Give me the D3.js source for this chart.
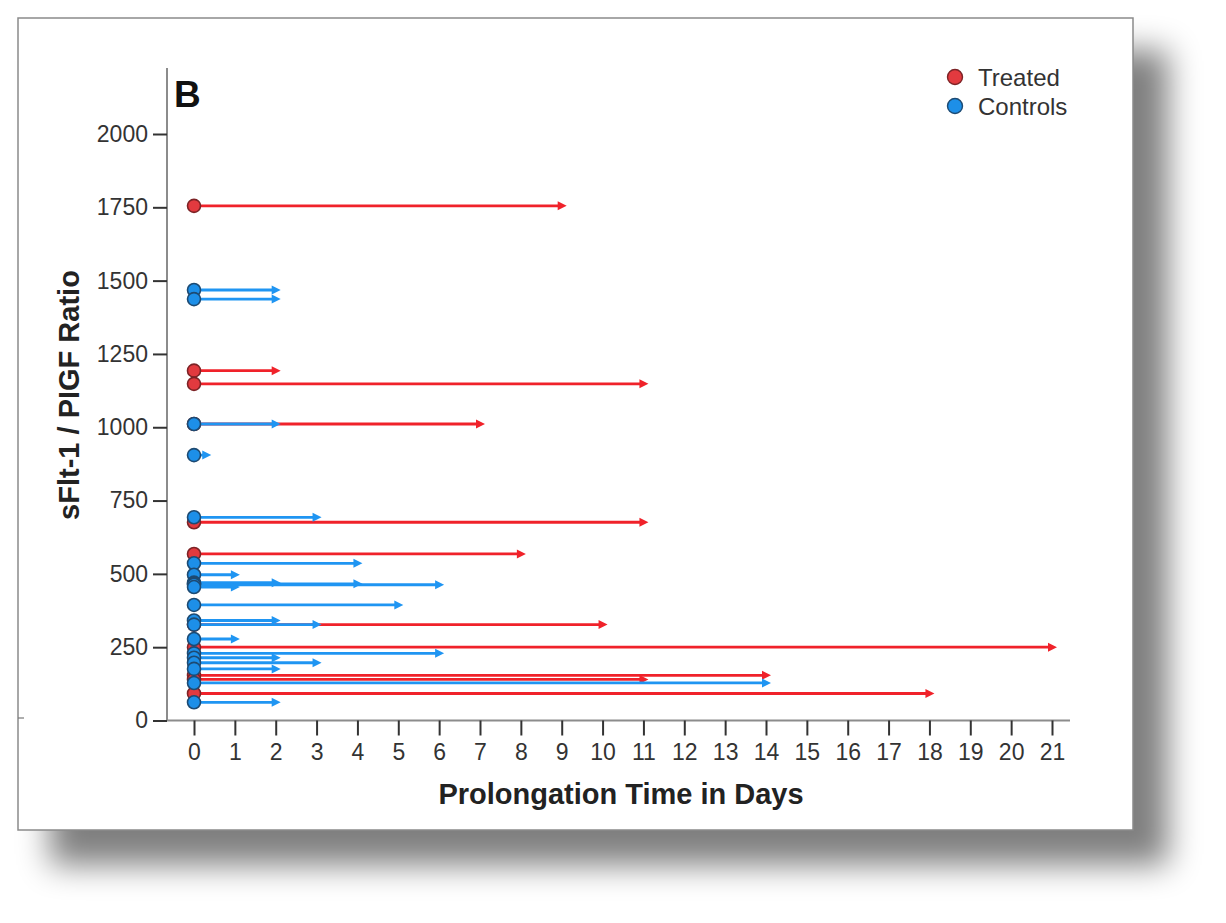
<!DOCTYPE html>
<html>
<head>
<meta charset="utf-8">
<script src="https://cdn.jsdelivr.net/npm/d3@7/dist/d3.min.js"></script>
<style>
  html, body { margin: 0; padding: 0; background: #ffffff; }
  svg { display: block; }
  text { font-family: "Liberation Sans", Arial, Helvetica, sans-serif; }
</style>
</head>
<body>
<svg id="chart" width="1226" height="923"></svg>
<script>
// ---- data ----
const treatedRatio = [1755, 1193, 1148, 1011, 676, 568, 327, 250, 154, 140, 92];
const treatedDays  = [9, 2, 11, 7, 11, 8, 10, 21, 14, 11, 18];
const controlRatio = [1468, 1437, 1011, 905, 693, 536, 497, 470, 466, 463, 455, 394, 341, 327, 278, 229, 214, 197, 176, 128, 62];
const controlDays  = [2, 2, 2, 0.3, 3, 4, 1, 2, 4, 6, 1, 5, 2, 3, 1, 6, 2, 3, 2, 14, 2];
const xTicks = d3.range(0, 22);
const yTicks = [0, 250, 500, 750, 1000, 1250, 1500, 1750, 2000];
const seriesNames = ["Treated", "Controls"];

const svg = d3.select("#chart");

// ---- frame with drop shadow ----
const defs = svg.append("defs");
const f = defs.append("filter").attr("id", "shadow")
  .attr("x", "-10%").attr("y", "-10%").attr("width", "130%").attr("height", "130%");
f.append("feGaussianBlur").attr("stdDeviation", 16);

svg.append("rect")
  .attr("x", 50).attr("y", 50).attr("width", 1118).attr("height", 815)
  .attr("fill", "#000").attr("opacity", 0.5).attr("filter", "url(#shadow)");
svg.append("rect")
  .attr("x", 18).attr("y", 18).attr("width", 1115).attr("height", 812)
  .attr("fill", "#fff").attr("stroke", "#8a8a8a").attr("stroke-width", 1.5);
svg.append("line").attr("x1", 18).attr("x2", 24).attr("y1", 718).attr("y2", 718)
  .attr("stroke", "#777").attr("stroke-width", 1.2);

// ---- scales ----
const x = d3.scaleLinear().domain([0, 21]).range([194, 1052]);
const y = d3.scaleLinear().domain([0, 2000]).range([720.5, 134]);
const axisX0 = 167, axisY0 = 720.5;

// axes lines
svg.append("line").attr("x1", axisX0).attr("x2", axisX0).attr("y1", 68).attr("y2", axisY0)
  .attr("stroke", "#8c8c8c").attr("stroke-width", 2);
svg.append("line").attr("x1", axisX0).attr("x2", 1070).attr("y1", axisY0).attr("y2", axisY0)
  .attr("stroke", "#8c8c8c").attr("stroke-width", 2);

// y axis
const yAxis = d3.axisLeft(y).tickValues(yTicks).tickSize(14).tickPadding(5).tickFormat(d3.format("d"));
const gy = svg.append("g").attr("transform", `translate(${axisX0},0)`).call(yAxis);
gy.select(".domain").remove();
gy.selectAll(".tick line").attr("stroke", "#333").attr("stroke-width", 2);
gy.selectAll(".tick text").attr("font-size", 23).attr("fill", "#333")
  .attr("font-family", "'Liberation Sans', Arial, sans-serif");

// x axis
const xAxis = d3.axisBottom(x).tickValues(xTicks).tickSize(15).tickPadding(8).tickFormat(d3.format("d"));
const gx = svg.append("g").attr("transform", `translate(0,${axisY0})`).call(xAxis);
gx.select(".domain").remove();
gx.selectAll(".tick line").attr("stroke", "#333").attr("stroke-width", 2);
gx.selectAll(".tick text").attr("font-size", 23).attr("fill", "#333")
  .attr("font-family", "'Liberation Sans', Arial, sans-serif");

// titles
svg.append("text").attr("x", 621).attr("y", 804).attr("text-anchor", "middle")
  .attr("font-size", 29).attr("font-weight", "bold").attr("fill", "#222")
  .text("Prolongation Time in Days");
svg.append("text").attr("transform", "translate(79,395) rotate(-90)").attr("text-anchor", "middle")
  .attr("font-size", 29).attr("font-weight", "bold").attr("fill", "#222")
  .text("sFlt-1 / PIGF Ratio");
svg.append("text").attr("x", 174).attr("y", 107)
  .attr("font-size", 37).attr("font-weight", "bold").attr("fill", "#111").text("B");

// ---- series ----
const series = [
  { name: seriesNames[0], ratio: treatedRatio, days: treatedDays, line: "#f0222a", fill: "#e23a3f", stroke: "#7c2326" },
  { name: seriesNames[1], ratio: controlRatio, days: controlDays, line: "#1f95f2", fill: "#1d8fe8", stroke: "#1d4a72" }
];

const headLen = 9, headW = 4.5, tipShift = 5;
series.forEach(s => {
  const data = s.ratio.map((r, i) => ({ r, d: s.days[i] }));
  const g = svg.append("g");
  g.selectAll("line.seg").data(data).join("line")
    .attr("x1", x(0)).attr("x2", d => x(d.d) + tipShift - headLen + 1)
    .attr("y1", d => y(d.r)).attr("y2", d => y(d.r))
    .attr("stroke", s.line).attr("stroke-width", 2.8);
  g.selectAll("path.head").data(data).join("path")
    .attr("d", d => {
      const tx = x(d.d) + tipShift, ty = y(d.r);
      return `M${tx},${ty} L${tx - headLen},${ty - headW} L${tx - headLen},${ty + headW} Z`;
    })
    .attr("fill", s.line);
  g.selectAll("circle").data(data).join("circle")
    .attr("cx", x(0)).attr("cy", d => y(d.r)).attr("r", 6.5)
    .attr("fill", s.fill).attr("stroke", s.stroke).attr("stroke-width", 1.6);
});

// ---- legend ----
const leg = svg.append("g");
series.forEach((s, i) => {
  leg.append("circle").attr("cx", 955).attr("cy", 77 + i * 29).attr("r", 7.5)
    .attr("fill", s.fill).attr("stroke", s.stroke).attr("stroke-width", 1.4);
  leg.append("text").attr("x", 978).attr("y", 86 + i * 29)
    .attr("font-size", 24).attr("fill", "#333").text(s.name);
});
</script>
</body>
</html>
